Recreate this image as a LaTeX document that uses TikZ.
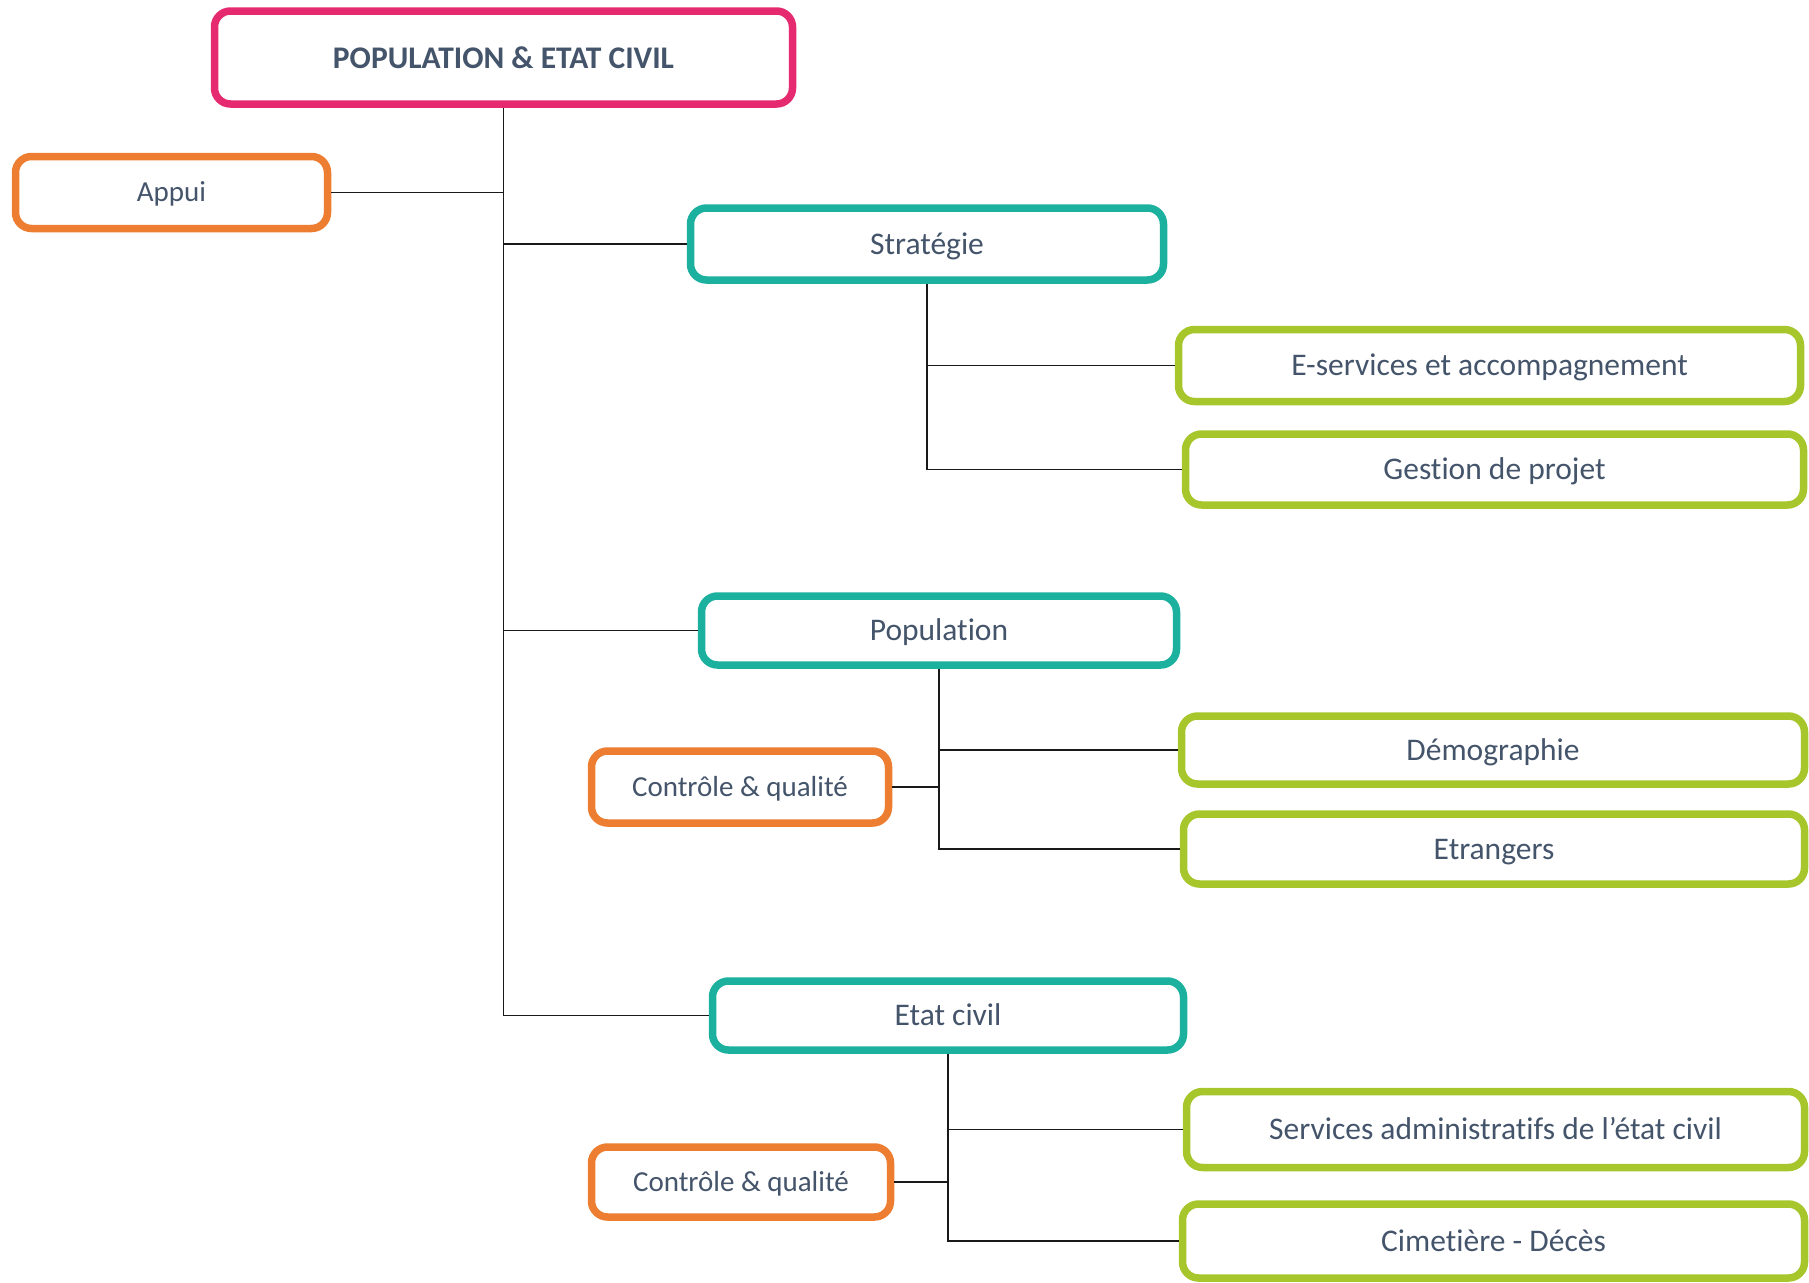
\documentclass[tikz,border=0pt]{standalone}
\usepackage{fontspec}
\setmainfont{Carlito}[Ligatures=CommonOff]
\definecolor{cpink}{HTML}{E52A6F}
\definecolor{corange}{HTML}{ED7D31}
\definecolor{cteal}{HTML}{1CB09E}
\definecolor{cgreen}{HTML}{A6C62C}
\definecolor{ctext}{HTML}{44546A}
\tikzset{
  box/.style={draw=#1, line width=7.5pt, rounded corners=16pt, fill=white, text=ctext, align=center, inner sep=0pt},
  big/.style={font=\fontsize{31.5}{38}\selectfont, text height=24pt, text depth=4pt},
  small/.style={font=\fontsize{29}{35}\selectfont, text height=22pt, text depth=4pt},
  conn/.style={draw=black!90, line width=1.4pt},
}
\begin{document}
\begin{tikzpicture}[x=1pt,y=-1pt]
\useasboundingbox (0,0) rectangle (1809,1282);
% top
\node[box=cpink, font=\fontsize{31.5}{38}\selectfont\bfseries, minimum width=578pt, minimum height=93pt] (top) at (503.5,57.5) {POPULATION \& ETAT CIVIL};
\node[box=corange, small, minimum width=312pt, minimum height=72pt] (appui) at (171.5,192.5) {Appui};
% level 1
\node[box=cteal, big, minimum width=473pt, minimum height=72pt] (strat) at (927,244) {Stratégie};
\node[box=cteal, big, minimum width=475pt, minimum height=69pt] (pop) at (939,630.5) {Population};
\node[box=cteal, big, minimum width=471pt, minimum height=69pt] (ec) at (948,1015.5) {Etat civil};
% level 2
\node[box=cgreen, big, minimum width=622pt, minimum height=72pt] (eserv) at (1489.5,365.5) {E-services et accompagnement};
\node[box=cgreen, big, minimum width=618pt, minimum height=71pt] (gest) at (1494.5,469.5) {Gestion de projet};
\node[box=cgreen, big, minimum width=623pt, minimum height=68pt] (demo) at (1493,750) {Démographie};
\node[box=cgreen, big, minimum width=621pt, minimum height=70pt] (etr) at (1494,849) {Etrangers};
\node[box=cgreen, big, minimum width=618pt, minimum height=76pt] (serv) at (1495.5,1129.5) {Services administratifs de l’état civil};
\node[box=cgreen, big, minimum width=622pt, minimum height=74pt] (cim) at (1493.5,1241) {Cimetière - Décès};
\node[box=corange, small, minimum width=297pt, minimum height=72pt] (cq1) at (740,787) {Contrôle \& qualité};
\node[box=corange, small, minimum width=299pt, minimum height=70pt] (cq2) at (741,1182) {Contrôle \& qualité};
% connectors
\draw[conn] (top.south) -- (top.south |- ec.west) -- (ec.west);
\draw[conn] (top.south |- appui.east) -- (appui.east);
\draw[conn] (top.south |- strat.west) -- (strat.west);
\draw[conn] (top.south |- pop.west) -- (pop.west);
\draw[conn] (strat.south) -- (strat.south |- gest.west) -- (gest.west);
\draw[conn] (strat.south |- eserv.west) -- (eserv.west);
\draw[conn] (pop.south) -- (pop.south |- etr.west) -- (etr.west);
\draw[conn] (pop.south |- demo.west) -- (demo.west);
\draw[conn] (pop.south |- cq1.east) -- (cq1.east);
\draw[conn] (ec.south) -- (ec.south |- cim.west) -- (cim.west);
\draw[conn] (ec.south |- serv.west) -- (serv.west);
\draw[conn] (ec.south |- cq2.east) -- (cq2.east);
\end{tikzpicture}
\end{document}
